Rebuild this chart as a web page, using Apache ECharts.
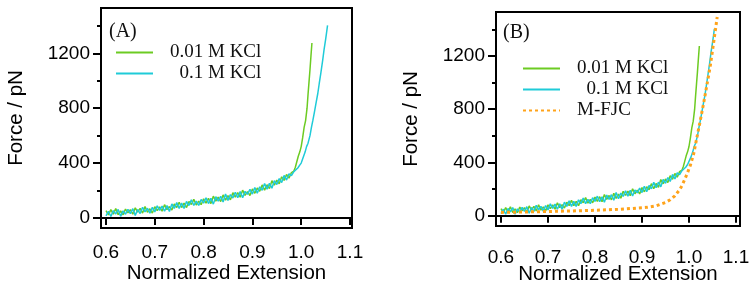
<!DOCTYPE html>
<html>
<head>
<meta charset="utf-8">
<script src="https://cdn.jsdelivr.net/npm/echarts@6/dist/echarts.min.js"></script>
<style>
  html, body { margin: 0; padding: 0; background: #fff; }
  #chart { width: 756px; height: 288px; }
</style>
</head>
<body>
<div id="chart"></div>
<script>
// normalized extension, low-force region (shared by both measured curves)
const extLow = [
  0.600, 0.605, 0.610, 0.615, 0.620, 0.625, 0.630, 0.635, 0.640, 0.645,
  0.650, 0.655, 0.660, 0.665, 0.670, 0.675, 0.680, 0.685, 0.690, 0.695,
  0.700, 0.705, 0.710, 0.715, 0.720, 0.725, 0.730, 0.735, 0.740, 0.745,
  0.750, 0.755, 0.760, 0.765, 0.770, 0.775, 0.780, 0.785, 0.790, 0.795,
  0.800, 0.805, 0.810, 0.815, 0.820, 0.825, 0.830, 0.835, 0.840, 0.845,
  0.850, 0.855, 0.860, 0.865, 0.870, 0.875, 0.880, 0.885, 0.890, 0.895,
  0.900, 0.905, 0.910, 0.915, 0.920, 0.925, 0.930, 0.935, 0.940, 0.945,
  0.950, 0.955, 0.960, 0.965, 0.970, 0.975, 0.980, 0.985
];

// 0.01 M KCl, force / pN
const kcl001Low = [
  54, 23, 61, 28, 68, 24, 51, 23, 65, 38,
  61, 27, 74, 43, 70, 36, 83, 42, 67, 36,
  82, 53, 81, 49, 97, 61, 83, 58, 102, 76,
  115, 76, 108, 76, 120, 98, 136, 94, 123, 97,
  140, 108, 143, 105, 159, 123, 152, 120, 168, 130,
  163, 132, 184, 152, 185, 151, 203, 165, 192, 164,
  212, 180, 218, 195, 241, 203, 242, 214, 272, 240,
  276, 249, 300, 274, 317, 290, 331, 342
];
const kcl001UpExt = [0.988, 0.991, 0.994, 0.997, 1.000, 1.003, 1.006, 1.009, 1.012, 1.014, 1.016, 1.018, 1.020, 1.022];
const kcl001UpForce = [370, 410, 450, 480, 520, 585, 660, 710, 800, 900, 990, 1080, 1180, 1275];

// 0.1 M KCl, force / pN
const kcl01Low = [
  16, 49, 11, 54, 29, 62, 12, 52, 27, 63,
  32, 68, 19, 62, 32, 78, 44, 71, 35, 77,
  44, 89, 55, 87, 49, 90, 48, 102, 70, 112,
  70, 108, 69, 120, 91, 133, 91, 123, 91, 135,
  108, 147, 105, 143, 101, 155, 123, 158, 116, 175,
  128, 170, 145, 188, 147, 192, 148, 194, 172, 208,
  174, 222, 180, 227, 202, 251, 210, 252, 217, 272,
  244, 287, 258, 310, 276, 322, 308, 338
];
const kcl01UpExt = [0.988, 0.993, 0.997, 1.000, 1.004, 1.008, 1.011, 1.014, 1.018, 1.021, 1.024, 1.027, 1.030, 1.034, 1.037, 1.040, 1.044, 1.047, 1.050, 1.052, 1.054];
const kcl01UpForce = [340, 364, 385, 400, 440, 480, 520, 545, 600, 660, 713, 770, 830, 907, 980, 1050, 1149, 1230, 1300, 1350, 1404];

// M-FJC model
const fjcExt = [0.600, 0.650, 0.700, 0.750, 0.800, 0.850, 0.880, 0.910, 0.930, 0.950, 0.960, 0.970, 0.980, 0.985, 0.990, 0.996, 1.003, 1.010, 1.017, 1.024, 1.031, 1.038, 1.045, 1.052, 1.060];
const fjcForce = [25, 28, 32, 36, 41, 48, 55, 63, 75, 100, 120, 150, 195, 226, 265, 315, 380, 466, 591, 715, 843, 980, 1119, 1290, 1492];

const xTicks = [0.6, 0.7, 0.8, 0.9, 1.0, 1.1];
const yTicks = [0, 400, 800, 1200];
const yMinorTicks = [200, 600, 1000, 1400];

const green = "#6ccb22";
const cyan = "#1fcbd8";
const orange = "#ffa31a";
const sans = "'Liberation Sans', Arial, sans-serif";
const serif = "'Liberation Serif', 'Times New Roman', serif";

function pairs(xs, ys) {
  return xs.map((x, i) => [x, ys[i]]);
}

function xAxisFor(grid, min, max, labelMargin, nameGap) {
  return {
    type: "value", gridIndex: grid, min: min, max: max,
    name: "Normalized Extension", nameLocation: "middle", nameGap: nameGap,
    nameMoveOverlap: false,
    nameTextStyle: { fontFamily: sans, fontSize: 20.5, color: "#000" },
    axisLine: { show: true, lineStyle: { color: "#000", width: 2 } },
    axisTick: { show: true, customValues: xTicks, length: 7, lineStyle: { color: "#000", width: 2 } },
    axisLabel: {
      customValues: xTicks, margin: labelMargin,
      fontFamily: sans, fontSize: 19, color: "#000",
      formatter: (v) => v.toFixed(1)
    },
    splitLine: { show: false }
  };
}

function yAxesFor(grid, min, max) {
  return [
    {
      type: "value", gridIndex: grid, min: min, max: max, position: "left",
      name: "Force / pN", nameLocation: "middle", nameGap: 74,
      nameMoveOverlap: false,
      nameTextStyle: { fontFamily: sans, fontSize: 20.5, color: "#000" },
      axisLine: { show: true, lineStyle: { color: "#000", width: 2 } },
      axisTick: { show: true, customValues: yTicks, length: 8, lineStyle: { color: "#000", width: 2 } },
      axisLabel: {
        customValues: yTicks, margin: 11, fontFamily: sans, fontSize: 19, color: "#000",
        formatter: (v) => String(v)
      },
      splitLine: { show: false }
    },
    {
      type: "value", gridIndex: grid, min: min, max: max, position: "left",
      axisLine: { show: false },
      axisTick: { show: true, customValues: yMinorTicks, length: 4, lineStyle: { color: "#000", width: 2 } },
      axisLabel: { show: false },
      splitLine: { show: false }
    }
  ];
}

function lineSeries(name, color, xi, yi, data, extra) {
  return Object.assign({
    name: name, type: "line", xAxisIndex: xi, yAxisIndex: yi,
    data: data, symbol: "none", animation: false,
    lineStyle: { color: color, width: 1.5 },
    itemStyle: { color: color }
  }, extra || {});
}

function legendFor(left, top, names) {
  return {
    left: left, top: top, orient: "vertical", padding: 0,
    itemWidth: 37, itemHeight: 14, itemGap: 2,
    data: names,
    itemStyle: { opacity: 0 },
    lineStyle: { width: 2 },
    textStyle: { fontFamily: serif, fontSize: 19, color: "#111", padding: [0, 0, 0, 12] },
    formatter: (n) => (n === "0.1 M KCl" ? "  " + n : n),
    selectedMode: false
  };
}

const kcl001 = pairs(extLow.concat(kcl001UpExt), kcl001Low.concat(kcl001UpForce));
const kcl01 = pairs(extLow.concat(kcl01UpExt), kcl01Low.concat(kcl01UpForce));
const fjc = pairs(fjcExt, fjcForce);

const chart = echarts.init(document.getElementById("chart"));
chart.setOption({
  backgroundColor: "#fff",
  animation: false,
  grid: [
    { left: 101, right: 404, top: 8, bottom: 60, show: true, borderColor: "#000", borderWidth: 2, containLabel: false, outerBoundsMode: "none" },
    { left: 496, right: 16, top: 12, bottom: 62, show: true, borderColor: "#000", borderWidth: 2, containLabel: false, outerBoundsMode: "none" }
  ],
  xAxis: [
    xAxisFor(0, 0.5898, 1.1041, 15, 35),
    xAxisFor(1, 0.5894, 1.1085, 22, 38)
  ],
  yAxis: yAxesFor(0, -73, 1530).concat(yAxesFor(1, -77, 1530)),
  legend: [
    legendFor(115, 43, ["0.01 M KCl", "0.1 M KCl"]),
    legendFor(522, 59, ["0.01 M KCl", "0.1 M KCl", "M-FJC"])
  ],
  graphic: [
    { type: "text", x: 109, y: 32, style: { text: "(A)", font: "20px " + serif, fill: "#111", verticalAlign: "middle" } },
    { type: "text", x: 503, y: 33, style: { text: "(B)", font: "20px " + serif, fill: "#111", verticalAlign: "middle" } }
  ],
  series: [
    lineSeries("0.01 M KCl", green, 0, 0, kcl001),
    lineSeries("0.1 M KCl", cyan, 0, 0, kcl01),
    lineSeries("0.01 M KCl", green, 1, 2, kcl001),
    lineSeries("0.1 M KCl", cyan, 1, 2, kcl01),
    lineSeries("M-FJC", orange, 1, 2, fjc, {
      lineStyle: { color: orange, width: 3, type: [3, 3], cap: "butt" },
      z: 3
    })
  ]
});
</script>
</body>
</html>
